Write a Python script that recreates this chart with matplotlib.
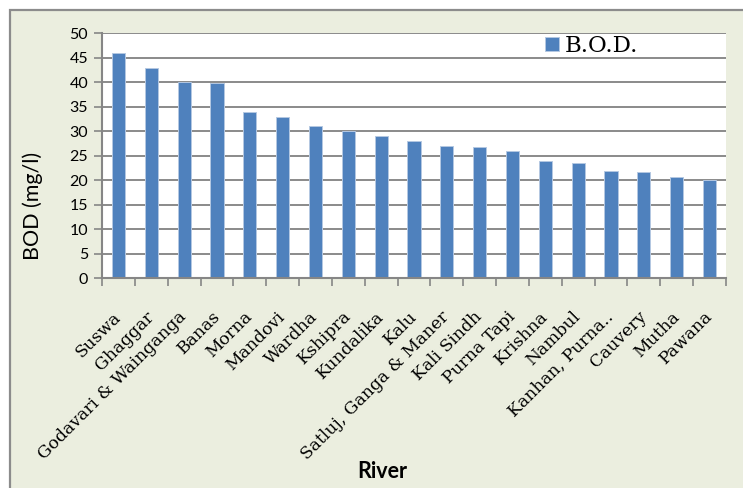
import matplotlib
matplotlib.use("Agg")
import matplotlib.pyplot as plt
from matplotlib.patches import Rectangle
import numpy as np

rivers = ["Suswa", "Ghaggar", "Godavari & Wainganga", "Banas", "Morna", "Mandovi",
          "Wardha", "Kshipra", "Kundalika", "Kalu", "Satluj, Ganga & Maner",
          "Kali Sindh", "Purna Tapi", "Krishna", "Nambul", "Kanhan, Purna..",
          "Cauvery", "Mutha", "Pawana"]
bod = [46, 43, 40, 39.8, 34, 33, 31, 30, 29, 28, 27, 26.8, 25.9, 23.9, 23.6,
       21.8, 21.7, 20.7, 20]
yticks = [0, 5, 10, 15, 20, 25, 30, 35, 40, 45, 50]

W, H = 743, 488
fig = plt.figure(figsize=(W / 100, H / 100), dpi=100)
fig.patch.set_facecolor("white")

# chart area background with border
fig.patches.append(Rectangle((9.5 / W, -0.1), 1.2, (H - 9.5) / H + 0.1,
                             transform=fig.transFigure, facecolor="#EBEEDF",
                             edgecolor="#8C8C8C", linewidth=1.6, zorder=-10))

left, right = 102 / W, 726 / W
bottom, top = 1 - 278.3 / H, 1 - 33.3 / H
ax = fig.add_axes([left, bottom, right - left, top - bottom])
ax.set_facecolor("white")

x = np.arange(len(rivers))
ax.bar(x, bod, width=0.4, color="#4F81BD", edgecolor="#B4C8E2",
       linewidth=0.7, label="B.O.D.", zorder=3)

ax.set_xlim(-0.5, len(rivers) - 0.5)
ax.set_ylim(0, 50)
ax.set_yticks(yticks)
ax.grid(axis="y", color="#8A8A8A", linewidth=1.4, zorder=1)
ax.set_axisbelow(True)

for s in ["top", "right"]:
    ax.spines[s].set_visible(False)
for s in ["left", "bottom"]:
    ax.spines[s].set_color("#868686")
    ax.spines[s].set_linewidth(1.5)
    ax.spines[s].set_zorder(4)

ax.tick_params(axis="y", direction="out", length=6, width=1.2, color="#868686",
               labelsize=11.5, pad=4)
for lab in ax.get_yticklabels():
    lab.set_fontfamily("Lato")

ax.set_xticks(x)
ax.set_xticklabels(rivers, rotation=45, ha="right", rotation_mode="anchor",
                   fontfamily="DejaVu Serif", fontsize=12.3, va="center")
ax.set_xticks(np.arange(len(rivers) + 1) - 0.5, minor=True)
ax.tick_params(axis="x", which="major", length=0, pad=26)
ax.tick_params(axis="x", which="minor", direction="out", length=6, width=1.2,
               color="#868686")

ax.legend(loc="center left", bbox_to_anchor=((545 - 102) / 624, (278.3 - 46) / 245),
          frameon=False, prop={"family": "DejaVu Serif", "size": 16.5},
          handlelength=0.6, handleheight=0.6, handletextpad=0.28,
          borderpad=0, borderaxespad=0)

fig.text(33 / W, 1 - 206 / H, "BOD (mg/l)", rotation=90, ha="center",
         va="center", fontfamily="Lato", fontsize=15.5)
fig.text(382 / W, 1 - 472 / H, "River", ha="center", va="center",
         fontfamily="Lato", fontweight="bold", fontsize=15.5)

fig.savefig("out.png", dpi=100, facecolor=fig.get_facecolor())
